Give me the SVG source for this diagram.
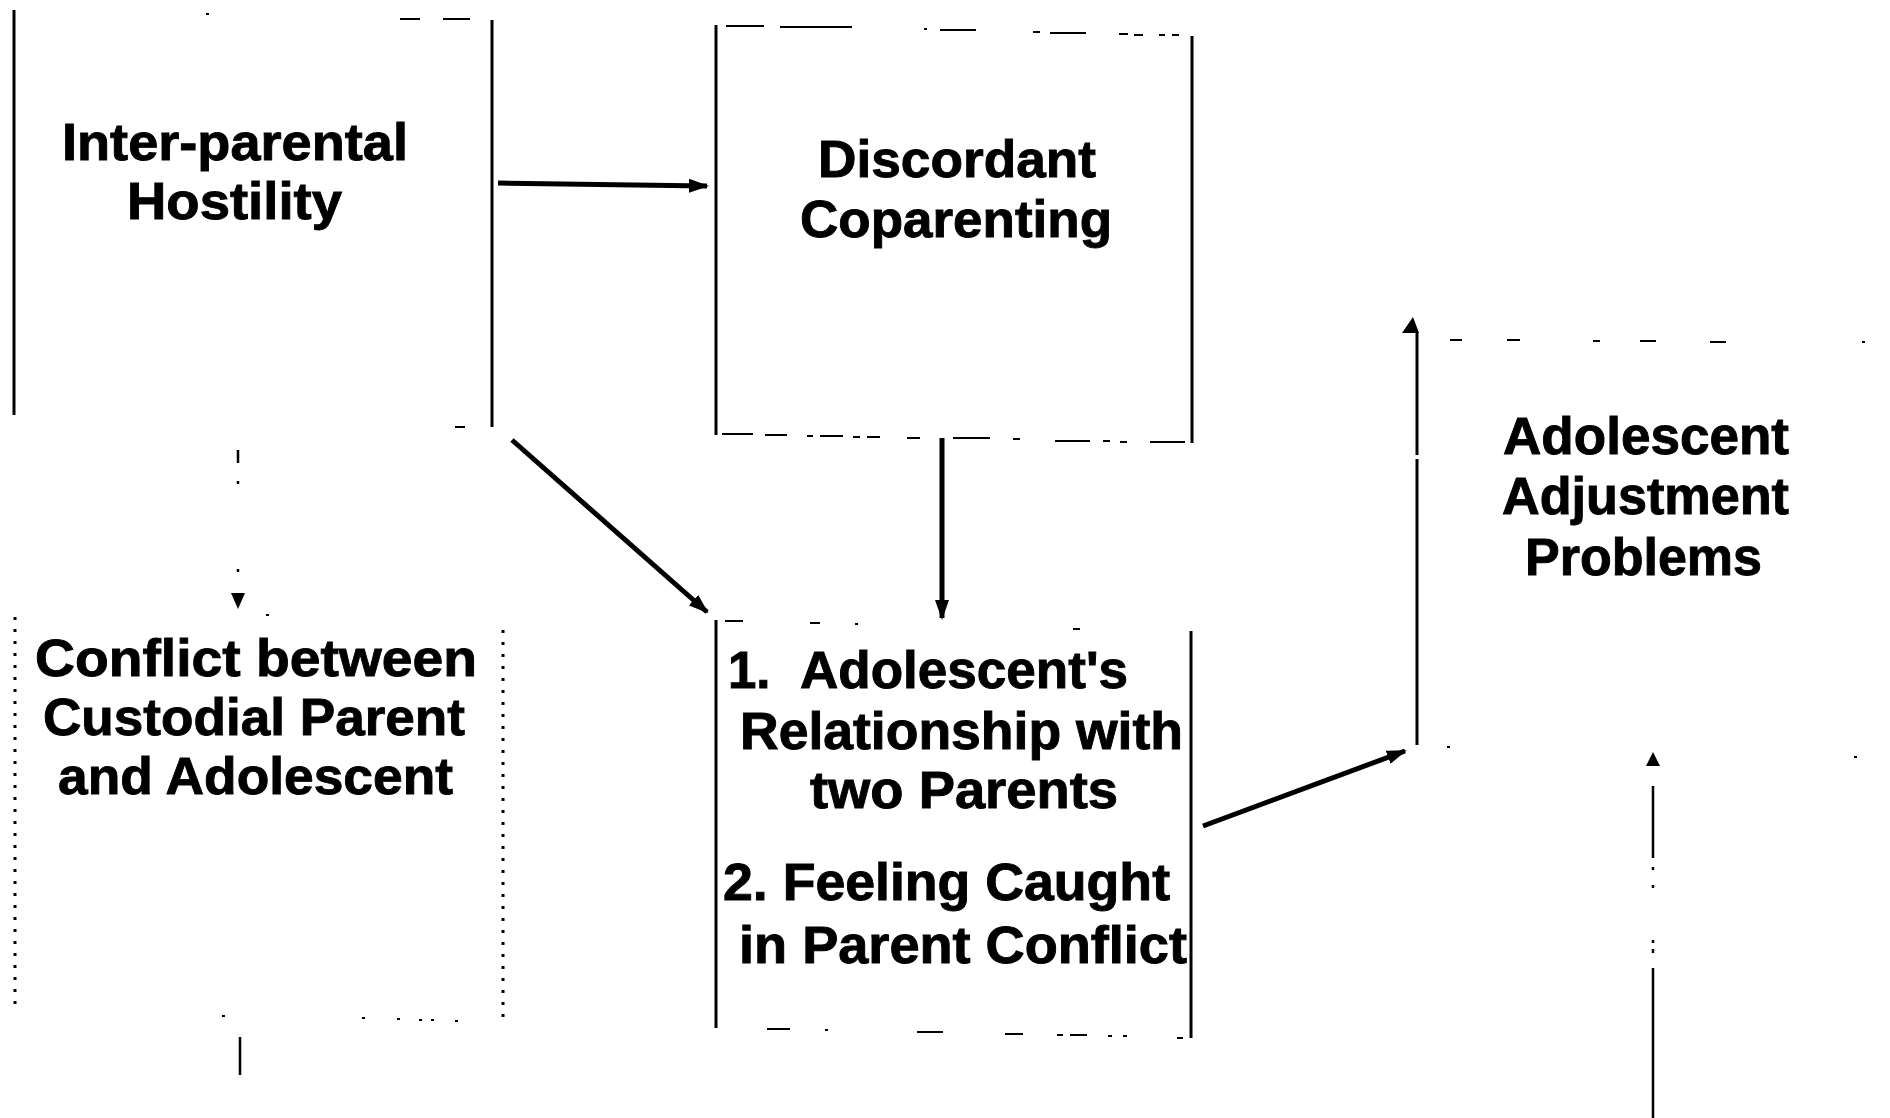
<svg xmlns="http://www.w3.org/2000/svg" width="1890" height="1118" viewBox="0 0 1890 1118">
<style>
.t{font-family:"Liberation Sans",Arial,Helvetica,sans-serif;font-weight:bold;fill:#000;stroke:#000;stroke-width:0.9;}
.big{font-size:52px;}
.mid{font-size:51px;}
.edge{stroke:#000;stroke-width:3;fill:none;}
.thin{stroke:#000;stroke-width:2;fill:none;}
.dot{stroke:#000;stroke-width:3;fill:none;stroke-dasharray:3 9;}
.conn{stroke:#000;stroke-width:5;fill:none;}
.cthin{stroke:#000;stroke-width:2.5;fill:none;}
</style>
<defs>
<marker id="ah" viewBox="0 0 20 14" refX="18" refY="7" markerWidth="20" markerHeight="14" markerUnits="userSpaceOnUse" orient="auto">
<path d="M0,0 L20,7 L0,14 z" fill="#000"/>
</marker>
</defs>
<rect width="1890" height="1118" fill="#fff"/>

<g id="node-hostility">
<line class="edge" x1="14" y1="10" x2="14" y2="415"/>
<line class="edge" x1="492" y1="20" x2="492" y2="427"/>
<path class="thin" d="M206,14h3 M400,19h20 M443,19h27 M455,427h10"/>
<text class="t big" x="62" y="160" textLength="346" lengthAdjust="spacingAndGlyphs">Inter-parental</text>
<text class="t big" x="127" y="219" textLength="215" lengthAdjust="spacingAndGlyphs">Hostility</text>
</g>

<g id="node-coparenting">
<line class="edge" x1="716" y1="25" x2="716" y2="435"/>
<line class="edge" x1="1192" y1="36" x2="1192" y2="443"/>
<path class="thin" d="M726,26h38 M780,27h72 M924,29h3 M940,30h36 M1033,32h7 M1050,33h36 M1119,34h9 M1134,35h9 M1159,35h6 M1172,35h7"/>
<path class="thin" d="M722,434h31 M765,435h22 M807,436h6 M820,436h23 M853,437h7 M867,437h13 M907,438h13 M953,438h37 M1013,439h7 M1055,441h35 M1103,441h7 M1120,442h7 M1150,442h35"/>
<text class="t big" x="818" y="177" textLength="278" lengthAdjust="spacingAndGlyphs">Discordant</text>
<text class="t big" x="800" y="237" textLength="312" lengthAdjust="spacingAndGlyphs">Coparenting</text>
</g>

<g id="node-relationship">
<line class="edge" x1="716" y1="620" x2="716" y2="1028"/>
<line class="edge" x1="1191" y1="631" x2="1191" y2="1038"/>
<path class="thin" d="M725,621h18 M810,623h10 M855,624h3 M1073,629h7"/>
<path class="thin" d="M767,1029h23 M825,1030h3 M917,1032h26 M1005,1034h18 M1057,1035h6 M1070,1035h17 M1108,1036h4 M1123,1036h4 M1177,1038h6"/>
<text class="t mid" y="688"><tspan x="728">1.</tspan><tspan x="800" textLength="328" lengthAdjust="spacingAndGlyphs">Adolescent's</tspan></text>
<text class="t mid" x="740" y="749" textLength="443" lengthAdjust="spacingAndGlyphs">Relationship with</text>
<text class="t mid" x="810" y="808" textLength="308" lengthAdjust="spacingAndGlyphs">two Parents</text>
<text class="t mid" x="723" y="900" textLength="447" lengthAdjust="spacingAndGlyphs">2. Feeling Caught</text>
<text class="t mid" x="739" y="963" textLength="448" lengthAdjust="spacingAndGlyphs">in Parent Conflict</text>
</g>

<g id="node-adjustment">
<line class="edge" x1="1417" y1="333" x2="1417" y2="455"/>
<line class="edge" x1="1417" y1="459" x2="1417" y2="745"/>
<path class="thin" d="M1450,340h12 M1507,340h13 M1593,341h7 M1640,341h16 M1710,342h16 M1862,342h3 M1447,747h3 M1854,757h3"/>
<text class="t mid" x="1503" y="454" textLength="286" lengthAdjust="spacingAndGlyphs">Adolescent</text>
<text class="t mid" x="1502" y="514" textLength="287" lengthAdjust="spacingAndGlyphs">Adjustment</text>
<text class="t mid" x="1525" y="575" textLength="237" lengthAdjust="spacingAndGlyphs">Problems</text>
</g>

<g id="node-conflict">
<line class="dot" x1="15" y1="617" x2="15" y2="1008"/>
<line class="dot" x1="503" y1="630" x2="503" y2="1022"/>
<path class="thin" d="M266,615h3 M222,1016h3 M362,1018h3 M397,1019h3 M419,1020h3 M431,1020h3 M455,1021h3"/>
<text class="t big" x="35" y="676" textLength="442" lengthAdjust="spacingAndGlyphs">Conflict between</text>
<text class="t big" x="43" y="735" textLength="422" lengthAdjust="spacingAndGlyphs">Custodial Parent</text>
<text class="t big" x="58" y="794" textLength="395" lengthAdjust="spacingAndGlyphs">and Adolescent</text>
</g>

<g id="connectors">
<line class="conn" x1="498" y1="183" x2="707" y2="186" marker-end="url(#ah)"/>
<line class="conn" x1="942" y1="438" x2="942" y2="618" marker-end="url(#ah)"/>
<line class="conn" x1="512" y1="440" x2="707" y2="612" marker-end="url(#ah)"/>
<line class="conn" x1="1203" y1="826" x2="1405" y2="751" marker-end="url(#ah)"/>
<path class="cthin" d="M238,450V463 M238,481V484 M238,569V572"/>
<polygon points="231,593 245,593 238,609" fill="#000"/>
<line class="cthin" x1="240" y1="1037" x2="240" y2="1075"/>
<polygon points="1413,317 1402,333 1419,333" fill="#000"/>
<polygon points="1653,752 1646,766 1660,766" fill="#000"/>
<path class="cthin" d="M1653,786V858 M1653,867V870 M1653,885V888 M1653,940V943 M1653,949V953 M1653,968V1118"/>
</g>
</svg>
